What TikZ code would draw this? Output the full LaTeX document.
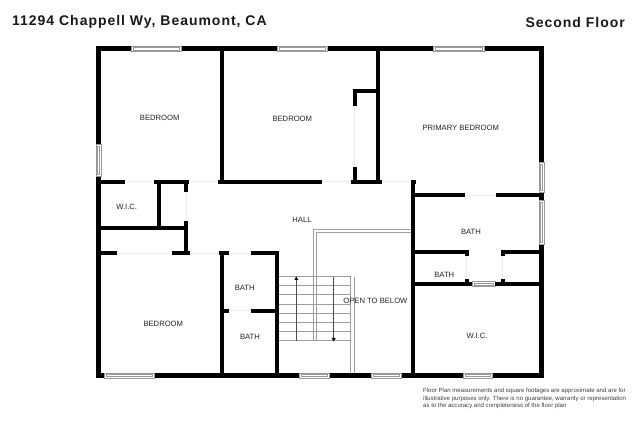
\documentclass[tikz,border=0pt]{standalone}
\usepackage{fontspec}
\setmainfont{Liberation Sans}
\newcommand{\hwin}[3]{%
  \draw[winline] (#1,#3-2.3) rectangle (#2,#3+2.3);
  \draw[winline] (#1+2,#3-1.1) rectangle (#2-2,#3+1.1);}
\newcommand{\vwin}[3]{%
  \draw[winline] (#3-2.3,#1) rectangle (#3+2.3,#2);
  \draw[winline] (#3-1.1,#1+2) rectangle (#3+1.1,#2-2);}
\tikzset{
  outerwall/.style={line width=5.2pt,black},
  innerwall/.style={line width=3.8pt,black},
  winline/.style={line width=.55pt,draw=black!40,fill=white},
  doorline/.style={line width=.8pt,black!8},
  rail/.style={line width=.8pt,black!38},
  flightline/.style={line width=.5pt,black!70},
  flighttip/.style={fill=black,draw=none},
  roomlabel/.style={font=\fontsize{7.65}{10}\selectfont,text=black!85,inner sep=0pt},
  titletext/.style={font=\fontsize{14}{16}\selectfont\bfseries,text=black!90,inner sep=0pt},
  notetext/.style={font=\fontsize{6.05}{7.7}\selectfont,text=black!75,inner sep=0pt,align=left}
}
\begin{document}
\begin{tikzpicture}[x=1pt,y=-1pt]
\useasboundingbox (0,0) rectangle (640,427);
\fill[white] (0,0) rectangle (640,427);
% door openings
\draw[doorline] (125,181.7) -- (154,181.7);
\draw[doorline] (189,181.7) -- (218,181.7);
\draw[doorline] (321.7,181.7) -- (350.7,181.7);
\draw[doorline] (381.7,181.7) -- (410.7,181.7);
\draw[doorline] (186.3,191.7) -- (186.3,221);
\draw[doorline] (354.7,105.7) -- (354.7,166.7);
\draw[doorline] (465,195.3) -- (496,195.3);
\draw[doorline] (466.7,256) -- (466.7,279.3);
\draw[doorline] (502.7,256) -- (502.7,279.3);
\draw[doorline] (116.7,253.3) -- (172.3,253.3);
\draw[doorline] (190,253.3) -- (219,253.3);
\draw[doorline] (228.7,253.3) -- (251.3,253.3);
\draw[doorline] (228.7,310.7) -- (251.3,310.7);
% stairs
\foreach \ty in {276.7,285.7,294.7,304,313,322,331.5,340.7}
  \draw[rail] (279,\ty) -- (351,\ty);
\draw[rail] (313.3,340.7) -- (313.3,229) -- (413,229);
\draw[rail] (316.7,340.7) -- (316.7,232.3) -- (413,232.3);
\draw[rail] (350.7,276.7) -- (350.7,373);
\draw[rail] (354,276.7) -- (354,373);
\draw[flightline] (296.3,340.7) -- (296.3,277);
\draw[flightline] (333.7,276.7) -- (333.7,340.7);
\fill[flighttip] (296.3,276.5) -- (298.3,280) -- (294.3,280) -- cycle;
\fill[flighttip] (333.7,341.5) -- (335.7,338) -- (331.7,338) -- cycle;
% outer walls
\draw[outerwall] (96,48.7) -- (131,48.7);
\draw[outerwall] (181,48.7) -- (277,48.7);
\draw[outerwall] (327,48.7) -- (433,48.7);
\draw[outerwall] (484,48.7) -- (544,48.7);
\draw[outerwall] (98.5,46) -- (98.5,144);
\draw[outerwall] (98.5,176) -- (98.5,378);
\draw[outerwall] (541.5,46) -- (541.5,162);
\draw[outerwall] (541.5,192) -- (541.5,200);
\draw[outerwall] (541.5,244.5) -- (541.5,378);
\draw[outerwall] (96,375.5) -- (104,375.5);
\draw[outerwall] (154.3,375.5) -- (299,375.5);
\draw[outerwall] (329,375.5) -- (371.7,375.5);
\draw[outerwall] (401.7,375.5) -- (463.3,375.5);
\draw[outerwall] (492.7,375.5) -- (544,375.5);
% windows
\hwin{131}{181}{48.7}
\hwin{277}{327}{48.7}
\hwin{433}{484}{48.7}
\hwin{104}{154.3}{375.5}
\hwin{299}{329}{375.5}
\hwin{371.7}{401.7}{375.5}
\hwin{463.3}{492.7}{375.5}
\hwin{472}{495}{284}
\vwin{144}{176}{98.5}
\vwin{162}{192}{541.5}
\vwin{200}{244.5}{541.5}
% inner walls, second floor rooms
\draw[innerwall] (221.7,51) -- (221.7,181.7);
\draw[innerwall] (377.7,51) -- (377.7,181.7);
\draw[innerwall] (352.9,90.7) -- (377.7,90.7);
\draw[innerwall] (354.7,89) -- (354.7,105.7);
\draw[innerwall] (354.7,166.7) -- (354.7,181.7);
\draw[innerwall] (100,181.7) -- (125,181.7);
\draw[innerwall] (154,181.7) -- (189,181.7);
\draw[innerwall] (218,181.7) -- (321.7,181.7);
\draw[innerwall] (350.7,181.7) -- (381.7,181.7);
\draw[innerwall] (410.7,181.7) -- (416,181.7);
\draw[innerwall] (413.3,180) -- (413.3,375);
\draw[innerwall] (413.3,195.3) -- (465,195.3);
\draw[innerwall] (496,195.3) -- (541,195.3);
\draw[innerwall] (414,251.7) -- (468.5,251.7);
\draw[innerwall] (501,251.7) -- (541,251.7);
\draw[innerwall] (466.7,250) -- (466.7,256);
\draw[innerwall] (502.7,250) -- (502.7,256);
\draw[innerwall] (414,284) -- (472,284);
\draw[innerwall] (495,284) -- (541,284);
\draw[innerwall] (466.7,279.3) -- (466.7,285.5);
\draw[innerwall] (502.7,279.3) -- (502.7,285.5);
\draw[innerwall] (159.3,181.7) -- (159.3,228.3);
\draw[innerwall] (100,228.3) -- (188,228.3);
\draw[innerwall] (186.3,181.7) -- (186.3,191.7);
\draw[innerwall] (186.3,221) -- (186.3,253.3);
\draw[innerwall] (100,253.3) -- (116.7,253.3);
\draw[innerwall] (172.3,253.3) -- (190,253.3);
\draw[innerwall] (219,253.3) -- (228.7,253.3);
\draw[innerwall] (251.3,253.3) -- (279,253.3);
\draw[innerwall] (221.7,253.3) -- (221.7,375);
\draw[innerwall] (277.3,253.3) -- (277.3,375);
\draw[innerwall] (222,310.7) -- (228.7,310.7);
\draw[innerwall] (251.3,310.7) -- (277,310.7);
% room labels
\node[roomlabel] (bedA) at (159.7,118) {BEDROOM};
\node[roomlabel] (bedB) at (292.3,119) {BEDROOM};
\node[roomlabel] (bedP) at (460.8,128) {PRIMARY BEDROOM};
\node[roomlabel] (bedC) at (163.3,323.5) {BEDROOM};
\node[roomlabel] (wicA) at (126.7,206.5) {W.I.C.};
\node[roomlabel] (wicB) at (477,336) {W.I.C.};
\node[roomlabel] (hall) at (302,220) {HALL};
\node[roomlabel] (bathA) at (244.7,287.5) {BATH};
\node[roomlabel] (bathB) at (250,336.5) {BATH};
\node[roomlabel] (bathC) at (471,232.3) {BATH};
\node[roomlabel] (bathD) at (444.3,274.7) {BATH};
\node[roomlabel] (open) at (375.4,301) {OPEN TO BELOW};
% header and note
\node[titletext,anchor=west] (addr) at (12,21.5) {\addfontfeature{LetterSpace=7}11294 Chappell Wy, Beaumont, CA};
\node[titletext,anchor=east] (floor) at (625,22.5) {\addfontfeature{LetterSpace=7}Second Floor};
\node[notetext,anchor=north west] (note) at (423,388) {Floor Plan measurements and square footages are approximate and are for\\illustrative purposes only. There is no guarantee, warranty or representation\\as to the accuracy and completeness of the floor plan};
\end{tikzpicture}
\end{document}
